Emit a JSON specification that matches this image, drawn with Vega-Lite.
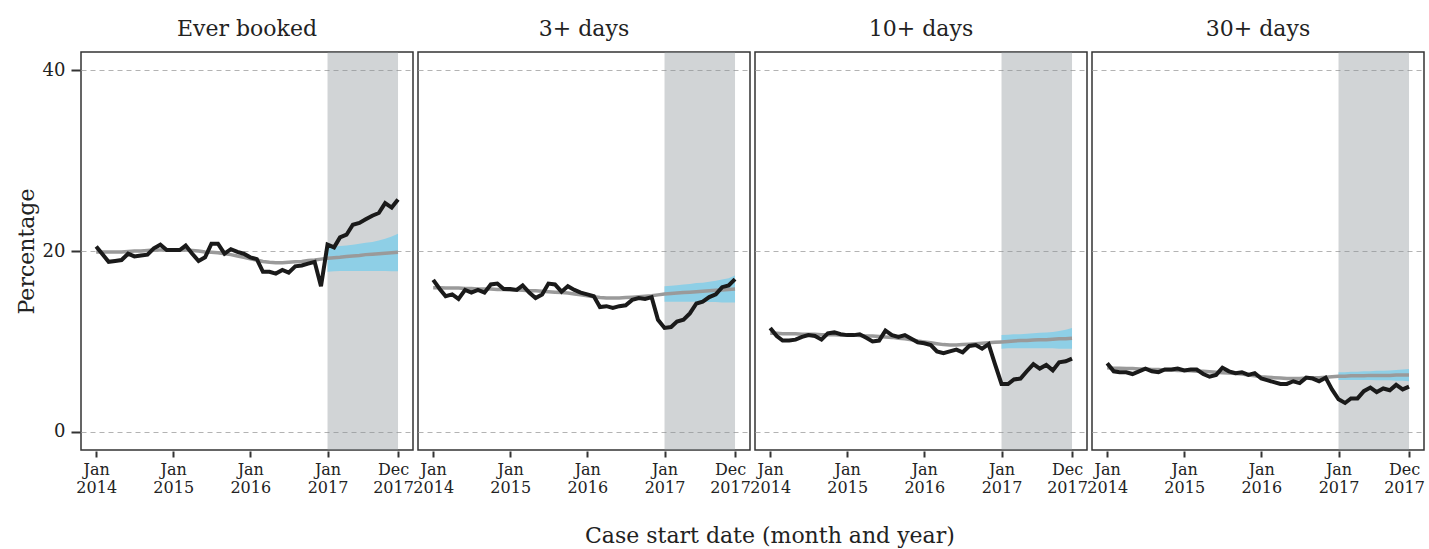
{
  "$schema": "https://vega.github.io/schema/vega-lite/v6.json",
  "padding": {"left": 15, "top": 18, "right": 2, "bottom": 4},
  "background": "white",
  "datasets": {
    "rows": [
      {"p":"Ever booked","d":"2014-01-01","o":20.5,"f":19.9},
      {"p":"Ever booked","d":"2014-02-01","o":19.6,"f":19.9},
      {"p":"Ever booked","d":"2014-03-01","o":18.8,"f":19.9},
      {"p":"Ever booked","d":"2014-04-01","o":18.9,"f":19.9},
      {"p":"Ever booked","d":"2014-05-01","o":19.0,"f":19.9},
      {"p":"Ever booked","d":"2014-06-01","o":19.7,"f":19.95},
      {"p":"Ever booked","d":"2014-07-01","o":19.4,"f":20.0},
      {"p":"Ever booked","d":"2014-08-01","o":19.5,"f":20.0},
      {"p":"Ever booked","d":"2014-09-01","o":19.6,"f":20.05},
      {"p":"Ever booked","d":"2014-10-01","o":20.3,"f":20.1},
      {"p":"Ever booked","d":"2014-11-01","o":20.7,"f":20.1},
      {"p":"Ever booked","d":"2014-12-01","o":20.1,"f":20.1},
      {"p":"Ever booked","d":"2015-01-01","o":20.1,"f":20.15},
      {"p":"Ever booked","d":"2015-02-01","o":20.1,"f":20.15},
      {"p":"Ever booked","d":"2015-03-01","o":20.6,"f":20.1},
      {"p":"Ever booked","d":"2015-04-01","o":19.7,"f":20.05},
      {"p":"Ever booked","d":"2015-05-01","o":18.9,"f":20.0},
      {"p":"Ever booked","d":"2015-06-01","o":19.3,"f":19.9},
      {"p":"Ever booked","d":"2015-07-01","o":20.8,"f":19.85},
      {"p":"Ever booked","d":"2015-08-01","o":20.8,"f":19.8},
      {"p":"Ever booked","d":"2015-09-01","o":19.7,"f":19.7},
      {"p":"Ever booked","d":"2015-10-01","o":20.2,"f":19.6},
      {"p":"Ever booked","d":"2015-11-01","o":19.9,"f":19.45},
      {"p":"Ever booked","d":"2015-12-01","o":19.7,"f":19.3},
      {"p":"Ever booked","d":"2016-01-01","o":19.3,"f":19.15},
      {"p":"Ever booked","d":"2016-02-01","o":19.1,"f":19.0},
      {"p":"Ever booked","d":"2016-03-01","o":17.7,"f":18.85},
      {"p":"Ever booked","d":"2016-04-01","o":17.7,"f":18.75},
      {"p":"Ever booked","d":"2016-05-01","o":17.5,"f":18.7},
      {"p":"Ever booked","d":"2016-06-01","o":17.9,"f":18.7},
      {"p":"Ever booked","d":"2016-07-01","o":17.6,"f":18.75},
      {"p":"Ever booked","d":"2016-08-01","o":18.3,"f":18.8},
      {"p":"Ever booked","d":"2016-09-01","o":18.4,"f":18.85},
      {"p":"Ever booked","d":"2016-10-01","o":18.6,"f":18.95},
      {"p":"Ever booked","d":"2016-11-01","o":18.8,"f":19.0},
      {"p":"Ever booked","d":"2016-12-01","o":16.1,"f":19.1},
      {"p":"Ever booked","d":"2017-01-01","o":20.7,"f":19.2,"lo":17.7,"hi":20.4},
      {"p":"Ever booked","d":"2017-02-01","o":20.4,"f":19.25,"lo":17.75,"hi":20.5},
      {"p":"Ever booked","d":"2017-03-01","o":21.5,"f":19.3,"lo":17.8,"hi":20.55},
      {"p":"Ever booked","d":"2017-04-01","o":21.8,"f":19.4,"lo":17.8,"hi":20.6},
      {"p":"Ever booked","d":"2017-05-01","o":22.9,"f":19.45,"lo":17.8,"hi":20.7},
      {"p":"Ever booked","d":"2017-06-01","o":23.1,"f":19.5,"lo":17.8,"hi":20.8},
      {"p":"Ever booked","d":"2017-07-01","o":23.5,"f":19.6,"lo":17.8,"hi":20.9},
      {"p":"Ever booked","d":"2017-08-01","o":23.9,"f":19.65,"lo":17.8,"hi":21.0},
      {"p":"Ever booked","d":"2017-09-01","o":24.2,"f":19.7,"lo":17.8,"hi":21.15},
      {"p":"Ever booked","d":"2017-10-01","o":25.3,"f":19.75,"lo":17.8,"hi":21.35},
      {"p":"Ever booked","d":"2017-11-01","o":24.8,"f":19.8,"lo":17.75,"hi":21.6},
      {"p":"Ever booked","d":"2017-12-01","o":25.7,"f":19.85,"lo":17.75,"hi":21.9},

      {"p":"3+ days","d":"2014-01-01","o":16.8,"f":15.95},
      {"p":"3+ days","d":"2014-02-01","o":15.8,"f":15.95},
      {"p":"3+ days","d":"2014-03-01","o":15.0,"f":15.9},
      {"p":"3+ days","d":"2014-04-01","o":15.2,"f":15.9},
      {"p":"3+ days","d":"2014-05-01","o":14.7,"f":15.9},
      {"p":"3+ days","d":"2014-06-01","o":15.7,"f":15.85},
      {"p":"3+ days","d":"2014-07-01","o":15.4,"f":15.85},
      {"p":"3+ days","d":"2014-08-01","o":15.7,"f":15.8},
      {"p":"3+ days","d":"2014-09-01","o":15.4,"f":15.8},
      {"p":"3+ days","d":"2014-10-01","o":16.3,"f":15.8},
      {"p":"3+ days","d":"2014-11-01","o":16.4,"f":15.75},
      {"p":"3+ days","d":"2014-12-01","o":15.8,"f":15.75},
      {"p":"3+ days","d":"2015-01-01","o":15.8,"f":15.7},
      {"p":"3+ days","d":"2015-02-01","o":15.7,"f":15.7},
      {"p":"3+ days","d":"2015-03-01","o":16.2,"f":15.65},
      {"p":"3+ days","d":"2015-04-01","o":15.4,"f":15.6},
      {"p":"3+ days","d":"2015-05-01","o":14.8,"f":15.6},
      {"p":"3+ days","d":"2015-06-01","o":15.2,"f":15.55},
      {"p":"3+ days","d":"2015-07-01","o":16.4,"f":15.5},
      {"p":"3+ days","d":"2015-08-01","o":16.3,"f":15.45},
      {"p":"3+ days","d":"2015-09-01","o":15.5,"f":15.4},
      {"p":"3+ days","d":"2015-10-01","o":16.1,"f":15.35},
      {"p":"3+ days","d":"2015-11-01","o":15.7,"f":15.25},
      {"p":"3+ days","d":"2015-12-01","o":15.4,"f":15.15},
      {"p":"3+ days","d":"2016-01-01","o":15.2,"f":15.05},
      {"p":"3+ days","d":"2016-02-01","o":15.0,"f":14.95},
      {"p":"3+ days","d":"2016-03-01","o":13.8,"f":14.85},
      {"p":"3+ days","d":"2016-04-01","o":13.9,"f":14.8},
      {"p":"3+ days","d":"2016-05-01","o":13.7,"f":14.8},
      {"p":"3+ days","d":"2016-06-01","o":13.9,"f":14.8},
      {"p":"3+ days","d":"2016-07-01","o":14.0,"f":14.85},
      {"p":"3+ days","d":"2016-08-01","o":14.6,"f":14.9},
      {"p":"3+ days","d":"2016-09-01","o":14.8,"f":14.95},
      {"p":"3+ days","d":"2016-10-01","o":14.7,"f":15.0},
      {"p":"3+ days","d":"2016-11-01","o":14.9,"f":15.05},
      {"p":"3+ days","d":"2016-12-01","o":12.4,"f":15.15},
      {"p":"3+ days","d":"2017-01-01","o":11.5,"f":15.25,"lo":14.4,"hi":16.1},
      {"p":"3+ days","d":"2017-02-01","o":11.6,"f":15.3,"lo":14.4,"hi":16.15},
      {"p":"3+ days","d":"2017-03-01","o":12.2,"f":15.35,"lo":14.4,"hi":16.2},
      {"p":"3+ days","d":"2017-04-01","o":12.4,"f":15.4,"lo":14.4,"hi":16.3},
      {"p":"3+ days","d":"2017-05-01","o":13.1,"f":15.45,"lo":14.4,"hi":16.35},
      {"p":"3+ days","d":"2017-06-01","o":14.2,"f":15.5,"lo":14.4,"hi":16.45},
      {"p":"3+ days","d":"2017-07-01","o":14.4,"f":15.55,"lo":14.4,"hi":16.5},
      {"p":"3+ days","d":"2017-08-01","o":14.9,"f":15.6,"lo":14.35,"hi":16.6},
      {"p":"3+ days","d":"2017-09-01","o":15.2,"f":15.65,"lo":14.35,"hi":16.7},
      {"p":"3+ days","d":"2017-10-01","o":16.0,"f":15.7,"lo":14.3,"hi":16.85},
      {"p":"3+ days","d":"2017-11-01","o":16.2,"f":15.75,"lo":14.3,"hi":17.0},
      {"p":"3+ days","d":"2017-12-01","o":16.9,"f":15.8,"lo":14.3,"hi":17.3},

      {"p":"10+ days","d":"2014-01-01","o":11.5,"f":10.9},
      {"p":"10+ days","d":"2014-02-01","o":10.6,"f":10.9},
      {"p":"10+ days","d":"2014-03-01","o":10.1,"f":10.85},
      {"p":"10+ days","d":"2014-04-01","o":10.1,"f":10.85},
      {"p":"10+ days","d":"2014-05-01","o":10.2,"f":10.85},
      {"p":"10+ days","d":"2014-06-01","o":10.5,"f":10.8},
      {"p":"10+ days","d":"2014-07-01","o":10.7,"f":10.8},
      {"p":"10+ days","d":"2014-08-01","o":10.6,"f":10.8},
      {"p":"10+ days","d":"2014-09-01","o":10.2,"f":10.75},
      {"p":"10+ days","d":"2014-10-01","o":10.9,"f":10.75},
      {"p":"10+ days","d":"2014-11-01","o":11.0,"f":10.75},
      {"p":"10+ days","d":"2014-12-01","o":10.8,"f":10.7},
      {"p":"10+ days","d":"2015-01-01","o":10.7,"f":10.7},
      {"p":"10+ days","d":"2015-02-01","o":10.7,"f":10.7},
      {"p":"10+ days","d":"2015-03-01","o":10.8,"f":10.65},
      {"p":"10+ days","d":"2015-04-01","o":10.4,"f":10.6},
      {"p":"10+ days","d":"2015-05-01","o":10.0,"f":10.6},
      {"p":"10+ days","d":"2015-06-01","o":10.1,"f":10.55},
      {"p":"10+ days","d":"2015-07-01","o":11.2,"f":10.5},
      {"p":"10+ days","d":"2015-08-01","o":10.7,"f":10.45},
      {"p":"10+ days","d":"2015-09-01","o":10.5,"f":10.35},
      {"p":"10+ days","d":"2015-10-01","o":10.7,"f":10.3},
      {"p":"10+ days","d":"2015-11-01","o":10.3,"f":10.2},
      {"p":"10+ days","d":"2015-12-01","o":9.9,"f":10.05},
      {"p":"10+ days","d":"2016-01-01","o":9.8,"f":9.95},
      {"p":"10+ days","d":"2016-02-01","o":9.6,"f":9.85},
      {"p":"10+ days","d":"2016-03-01","o":8.9,"f":9.75},
      {"p":"10+ days","d":"2016-04-01","o":8.7,"f":9.65},
      {"p":"10+ days","d":"2016-05-01","o":8.9,"f":9.6},
      {"p":"10+ days","d":"2016-06-01","o":9.1,"f":9.6},
      {"p":"10+ days","d":"2016-07-01","o":8.8,"f":9.65},
      {"p":"10+ days","d":"2016-08-01","o":9.5,"f":9.7},
      {"p":"10+ days","d":"2016-09-01","o":9.6,"f":9.75},
      {"p":"10+ days","d":"2016-10-01","o":9.2,"f":9.8},
      {"p":"10+ days","d":"2016-11-01","o":9.7,"f":9.85},
      {"p":"10+ days","d":"2016-12-01","o":7.5,"f":9.9},
      {"p":"10+ days","d":"2017-01-01","o":5.3,"f":9.95,"lo":9.2,"hi":10.7},
      {"p":"10+ days","d":"2017-02-01","o":5.3,"f":10.0,"lo":9.25,"hi":10.75},
      {"p":"10+ days","d":"2017-03-01","o":5.8,"f":10.05,"lo":9.25,"hi":10.8},
      {"p":"10+ days","d":"2017-04-01","o":5.9,"f":10.1,"lo":9.25,"hi":10.8},
      {"p":"10+ days","d":"2017-05-01","o":6.7,"f":10.1,"lo":9.25,"hi":10.85},
      {"p":"10+ days","d":"2017-06-01","o":7.5,"f":10.15,"lo":9.25,"hi":10.9},
      {"p":"10+ days","d":"2017-07-01","o":7.0,"f":10.2,"lo":9.25,"hi":10.95},
      {"p":"10+ days","d":"2017-08-01","o":7.4,"f":10.2,"lo":9.25,"hi":11.0},
      {"p":"10+ days","d":"2017-09-01","o":6.8,"f":10.25,"lo":9.25,"hi":11.05},
      {"p":"10+ days","d":"2017-10-01","o":7.7,"f":10.3,"lo":9.2,"hi":11.15},
      {"p":"10+ days","d":"2017-11-01","o":7.8,"f":10.3,"lo":9.2,"hi":11.3},
      {"p":"10+ days","d":"2017-12-01","o":8.1,"f":10.35,"lo":9.2,"hi":11.5},

      {"p":"30+ days","d":"2014-01-01","o":7.6,"f":7.1},
      {"p":"30+ days","d":"2014-02-01","o":6.7,"f":7.05},
      {"p":"30+ days","d":"2014-03-01","o":6.6,"f":7.05},
      {"p":"30+ days","d":"2014-04-01","o":6.6,"f":7.0},
      {"p":"30+ days","d":"2014-05-01","o":6.4,"f":7.0},
      {"p":"30+ days","d":"2014-06-01","o":6.7,"f":6.95},
      {"p":"30+ days","d":"2014-07-01","o":7.0,"f":6.95},
      {"p":"30+ days","d":"2014-08-01","o":6.7,"f":6.9},
      {"p":"30+ days","d":"2014-09-01","o":6.6,"f":6.9},
      {"p":"30+ days","d":"2014-10-01","o":6.9,"f":6.85},
      {"p":"30+ days","d":"2014-11-01","o":6.9,"f":6.85},
      {"p":"30+ days","d":"2014-12-01","o":7.0,"f":6.8},
      {"p":"30+ days","d":"2015-01-01","o":6.8,"f":6.8},
      {"p":"30+ days","d":"2015-02-01","o":6.9,"f":6.75},
      {"p":"30+ days","d":"2015-03-01","o":6.9,"f":6.7},
      {"p":"30+ days","d":"2015-04-01","o":6.4,"f":6.7},
      {"p":"30+ days","d":"2015-05-01","o":6.1,"f":6.65},
      {"p":"30+ days","d":"2015-06-01","o":6.3,"f":6.6},
      {"p":"30+ days","d":"2015-07-01","o":7.1,"f":6.55},
      {"p":"30+ days","d":"2015-08-01","o":6.7,"f":6.5},
      {"p":"30+ days","d":"2015-09-01","o":6.5,"f":6.45},
      {"p":"30+ days","d":"2015-10-01","o":6.6,"f":6.4},
      {"p":"30+ days","d":"2015-11-01","o":6.3,"f":6.3},
      {"p":"30+ days","d":"2015-12-01","o":6.5,"f":6.2},
      {"p":"30+ days","d":"2016-01-01","o":5.9,"f":6.1},
      {"p":"30+ days","d":"2016-02-01","o":5.7,"f":6.05},
      {"p":"30+ days","d":"2016-03-01","o":5.5,"f":6.0},
      {"p":"30+ days","d":"2016-04-01","o":5.3,"f":5.95},
      {"p":"30+ days","d":"2016-05-01","o":5.3,"f":5.9},
      {"p":"30+ days","d":"2016-06-01","o":5.6,"f":5.9},
      {"p":"30+ days","d":"2016-07-01","o":5.4,"f":5.9},
      {"p":"30+ days","d":"2016-08-01","o":6.0,"f":5.95},
      {"p":"30+ days","d":"2016-09-01","o":5.9,"f":6.0},
      {"p":"30+ days","d":"2016-10-01","o":5.6,"f":6.0},
      {"p":"30+ days","d":"2016-11-01","o":6.0,"f":6.05},
      {"p":"30+ days","d":"2016-12-01","o":4.7,"f":6.1},
      {"p":"30+ days","d":"2017-01-01","o":3.6,"f":6.15,"lo":5.75,"hi":6.6},
      {"p":"30+ days","d":"2017-02-01","o":3.2,"f":6.15,"lo":5.75,"hi":6.6},
      {"p":"30+ days","d":"2017-03-01","o":3.7,"f":6.2,"lo":5.75,"hi":6.65},
      {"p":"30+ days","d":"2017-04-01","o":3.7,"f":6.2,"lo":5.75,"hi":6.65},
      {"p":"30+ days","d":"2017-05-01","o":4.5,"f":6.2,"lo":5.75,"hi":6.7},
      {"p":"30+ days","d":"2017-06-01","o":4.9,"f":6.25,"lo":5.75,"hi":6.7},
      {"p":"30+ days","d":"2017-07-01","o":4.4,"f":6.25,"lo":5.7,"hi":6.75},
      {"p":"30+ days","d":"2017-08-01","o":4.8,"f":6.25,"lo":5.7,"hi":6.75},
      {"p":"30+ days","d":"2017-09-01","o":4.6,"f":6.25,"lo":5.7,"hi":6.8},
      {"p":"30+ days","d":"2017-10-01","o":5.2,"f":6.3,"lo":5.65,"hi":6.85},
      {"p":"30+ days","d":"2017-11-01","o":4.7,"f":6.3,"lo":5.65,"hi":6.9},
      {"p":"30+ days","d":"2017-12-01","o":5.0,"f":6.3,"lo":5.6,"hi":6.95}
    ]
  },
  "data": {"name": "rows"},
  "title": {
    "text": "Case start date (month and year)",
    "orient": "bottom",
    "anchor": "middle",
    "font": "DejaVu Serif",
    "fontSize": 22,
    "fontWeight": "normal",
    "color": "#222222",
    "offset": 31,
    "dx": 50
  },
  "spacing": 3,
  "facet": {
    "column": {
      "field": "p",
      "type": "nominal",
      "sort": ["Ever booked", "3+ days", "10+ days", "30+ days"],
      "title": null,
      "header": {
        "labelFont": "DejaVu Serif",
        "labelFontSize": 22,
        "labelColor": "#222222",
        "labelPadding": 10
      }
    }
  },
  "spec": {
    "width": 332,
    "height": 398,
    "layer": [
      {
        "transform": [{"filter": "datum.hi != null"}],
        "mark": {"type": "rect", "fill": "#8d9399", "opacity": 0.4},
        "encoding": {
          "x": {"aggregate": "min", "field": "d", "type": "temporal", "title": null},
          "x2": {"aggregate": "max", "field": "d"}
        }
      },
      {
        "mark": {"type": "area", "color": "#8ecfe6", "opacity": 1},
        "encoding": {
          "x": {"field": "d", "type": "temporal", "title": null},
          "y": {"field": "lo", "type": "quantitative", "title": "Percentage"},
          "y2": {"field": "hi"}
        }
      },
      {
        "mark": {"type": "line", "color": "#9a9a9a", "strokeWidth": 3.5},
        "encoding": {
          "x": {"field": "d", "type": "temporal", "title": null},
          "y": {"field": "f", "type": "quantitative", "title": "Percentage"}
        }
      },
      {
        "mark": {"type": "line", "color": "#1a1a1a", "strokeWidth": 4, "strokeJoin": "miter"},
        "encoding": {
          "x": {
            "field": "d",
            "type": "temporal",
            "title": null,
            "scale": {
              "type": "utc",
              "domain": [
                {"year": 2013, "month": 10, "date": 21, "utc": true},
                {"year": 2018, "month": 2, "date": 10, "utc": true}
              ]
            },
            "axis": {
              "values": [
                {"year": 2014, "month": 1, "date": 1, "utc": true},
                {"year": 2015, "month": 1, "date": 1, "utc": true},
                {"year": 2016, "month": 1, "date": 1, "utc": true},
                {"year": 2017, "month": 1, "date": 1, "utc": true},
                {"year": 2017, "month": 12, "date": 1, "utc": true}
              ],
              "labelExpr": "[utcFormat(datum.value, '%b'), utcFormat(datum.value, '%Y')]",
              "grid": false,
              "tickSize": 6,
              "labelPadding": 4,
              "labelFontSize": 16,
              "labelLineHeight": 18,
              "labelOffset": {"condition": {"test": "utcmonth(datum.value) == 11", "value": -5}, "value": 0},
              "labelOverlap": false,
              "labelFlush": false
            }
          },
          "y": {
            "field": "o",
            "type": "quantitative",
            "title": "Percentage",
            "scale": {"domain": [-2, 42], "nice": false, "zero": false},
            "axis": {
              "values": [0, 20, 40],
              "grid": true,
              "tickSize": 9,
              "labelPadding": 6,
              "labelFontSize": 18,
              "titlePadding": 4
            }
          }
        }
      }
    ]
  },
  "config": {
    "font": "DejaVu Serif",
    "view": {"stroke": "#333333", "strokeWidth": 1.5},
    "axis": {
      "labelFont": "DejaVu Serif",
      "labelFontSize": 17,
      "labelColor": "#222222",
      "titleFont": "DejaVu Serif",
      "titleFontSize": 22,
      "titleFontWeight": "normal",
      "titleColor": "#222222",
      "domain": false,
      "tickColor": "#333333",
      "tickWidth": 2,
      "gridColor": "#b3b3b3",
      "gridDash": [5, 4],
      "gridWidth": 1
    }
  }
}
